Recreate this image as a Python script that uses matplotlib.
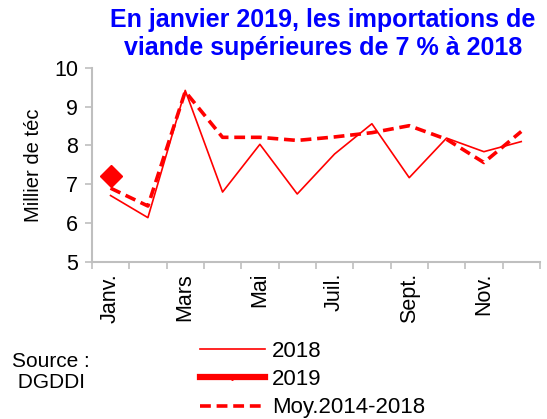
import matplotlib.pyplot as plt
from matplotlib.lines import Line2D

plt.rcParams["font.family"] = ["Liberation Sans", "DejaVu Sans"]

months = ["Janv.", "Févr.", "Mars", "Avr.", "Mai", "Juin", "Juil.", "Août", "Sept.", "Oct.", "Nov.", "Déc."]
shown_labels = ["Janv.", "", "Mars", "", "Mai", "", "Juil.", "", "Sept.", "", "Nov.", ""]
values_2018 = [6.71, 6.14, 9.42, 6.80, 8.03, 6.75, 7.78, 8.56, 7.17, 8.19, 7.84, 8.10]
values_2019 = [7.22]
values_avg = [6.90, 6.44, 9.39, 8.21, 8.21, 8.13, 8.22, 8.33, 8.51, 8.16, 7.56, 8.36]

red = "#ff0000"
grey = "#bfbfbf"

fig = plt.figure(figsize=(5.47, 4.19), dpi=100)
ax = fig.add_axes([0.168, 0.375, 0.819, 0.463])

x = list(range(len(months)))
ax.plot(x, values_2018, color=red, linewidth=1.2)
ax.plot(x, values_avg, color=red, linewidth=2.6, linestyle=(0, (3, 1.6)))
ax.plot(x[:len(values_2019)], values_2019, color=red, linewidth=3.5,
        marker="D", markersize=11, linestyle="-")

ax.set_ylim(5, 10)
ax.set_yticks([5, 6, 7, 8, 9, 10])
ax.set_xlim(-0.5, 11.5)
ax.set_xticks(x)
ax.set_xticklabels(shown_labels, rotation=90, fontsize=15.5)
ax.set_xticks([i - 0.5 for i in range(13)], minor=True)
ax.tick_params(axis="x", which="major", length=0, pad=8)
ax.tick_params(axis="x", which="minor", length=5, color=grey, width=1.2)
ax.tick_params(axis="y", length=5, color=grey, width=1.2, labelsize=15.5, pad=5)
ax.set_ylabel("Millier de téc", fontsize=14.5)
ax.yaxis.set_label_coords(-0.11, 0.5)

for side in ["top", "right"]:
    ax.spines[side].set_visible(False)
for side in ["left", "bottom"]:
    ax.spines[side].set_color(grey)
    ax.spines[side].set_linewidth(1.5)

fig.text(0.59, 0.98, "En janvier 2019, les importations de\nviande supérieures de 7 % à 2018",
         ha="center", va="top", color="#0000ff", fontsize=18, fontweight="bold", linespacing=1.2)

handles = [
    Line2D([], [], color=red, linewidth=1.2),
    Line2D([], [], color=red, linewidth=4.5, marker="D", markersize=3),
    Line2D([], [], color=red, linewidth=2.6, linestyle=(0, (3, 1.6))),
]
fig.legend(handles, ["2018", "2019", "Moy.2014-2018"], loc="upper left",
           bbox_to_anchor=(0.365, 0.187), frameon=False, fontsize=16,
           handlelength=2.95, handletextpad=0.3, labelspacing=0.33, borderpad=0,
           borderaxespad=0)

fig.text(0.022, 0.112, "Source :\n DGDDI", ha="left", va="center", fontsize=15, linespacing=1.15)

fig.savefig("out.png", dpi=100)
